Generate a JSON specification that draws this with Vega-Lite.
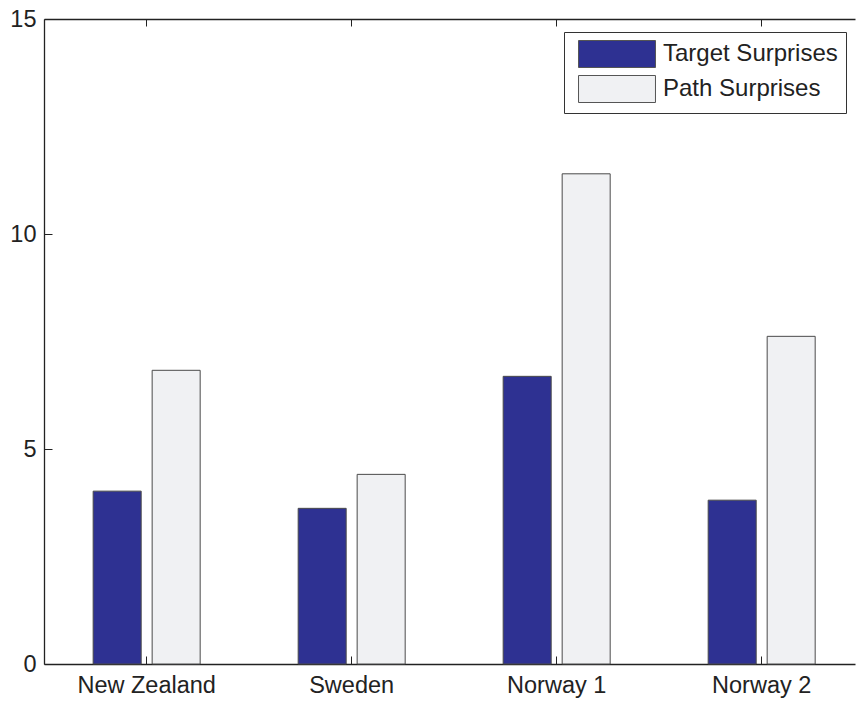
{
  "$schema": "https://vega.github.io/schema/vega-lite/v6.json",
  "width": 811,
  "height": 645,
  "autosize": {"type": "none"},
  "padding": {"left": 44, "top": 19, "right": 1, "bottom": 37},
  "background": "white",
  "config": {
    "view": {"stroke": null},
    "font": "Liberation Sans",
    "axis": {"labelFont": "Liberation Sans", "labelFontSize": 23.5, "labelColor": "#222", "domainColor": "#222", "tickColor": "#222", "domainWidth": 1.3, "tickWidth": 1, "grid": false, "title": null},
    "legend": {"labelFont": "Liberation Sans"}
  },
  "data": {
    "values": [
      {"country": "New Zealand", "type": "Target Surprises", "value": 4.02},
      {"country": "New Zealand", "type": "Path Surprises", "value": 6.83},
      {"country": "Sweden", "type": "Target Surprises", "value": 3.62},
      {"country": "Sweden", "type": "Path Surprises", "value": 4.41},
      {"country": "Norway 1", "type": "Target Surprises", "value": 6.69},
      {"country": "Norway 1", "type": "Path Surprises", "value": 11.4},
      {"country": "Norway 2", "type": "Target Surprises", "value": 3.81},
      {"country": "Norway 2", "type": "Path Surprises", "value": 7.62}
    ]
  },
  "layer": [
    {
      "mark": {"type": "bar", "stroke": "#4a4a4a", "strokeWidth": 1},
      "encoding": {
        "x": {
          "field": "country", "type": "nominal",
          "sort": ["New Zealand", "Sweden", "Norway 1", "Norway 2"],
          "scale": {"paddingInner": 0.4, "paddingOuter": 0.178, "align": 0.564},
          "axis": {"orient": "bottom", "labelAngle": 0, "tickSize": -8, "labelPadding": 17}
        },
        "xOffset": {
          "field": "type", "type": "nominal",
          "sort": ["Target Surprises", "Path Surprises"],
          "scale": {"paddingInner": 0.186, "paddingOuter": 0.1355}
        },
        "y": {
          "field": "value", "type": "quantitative",
          "scale": {"domain": [0, 15], "nice": false},
          "axis": {"orient": "left", "values": [0, 5, 10, 15], "tickSize": -8, "labelPadding": 16}
        },
        "color": {
          "field": "type", "type": "nominal",
          "sort": ["Target Surprises", "Path Surprises"],
          "scale": {"domain": ["Target Surprises", "Path Surprises"], "range": ["#2E3192", "#F0F1F3"]},
          "legend": {
            "title": null,
            "orient": "none",
            "legendX": 520,
            "legendY": 13,
            "symbolType": "M-2.85,-1H2.85V1H-2.85Z",
            "symbolSize": 729,
            "symbolOffset": 31,
            "symbolStrokeColor": "#555",
            "symbolStrokeWidth": 1,
            "symbolOpacity": 1,
            "labelFontSize": 24,
            "labelColor": "#222",
            "labelOffset": 32,
            "labelLimit": 400,
            "rowPadding": 3,
            "padding": 8,
            "strokeColor": "#333",
            "fillColor": "white"
          }
        }
      }
    },
    {
      "mark": {"type": "bar", "opacity": 0},
      "encoding": {
        "x": {
          "field": "country", "type": "nominal",
          "sort": ["New Zealand", "Sweden", "Norway 1", "Norway 2"],
          "axis": {"orient": "top", "labels": false, "tickSize": -7}
        },
        "y": {"field": "value", "type": "quantitative", "axis": null}
      }
    }
  ],
  "resolve": {"axis": {"x": "independent", "y": "independent"}}
}
